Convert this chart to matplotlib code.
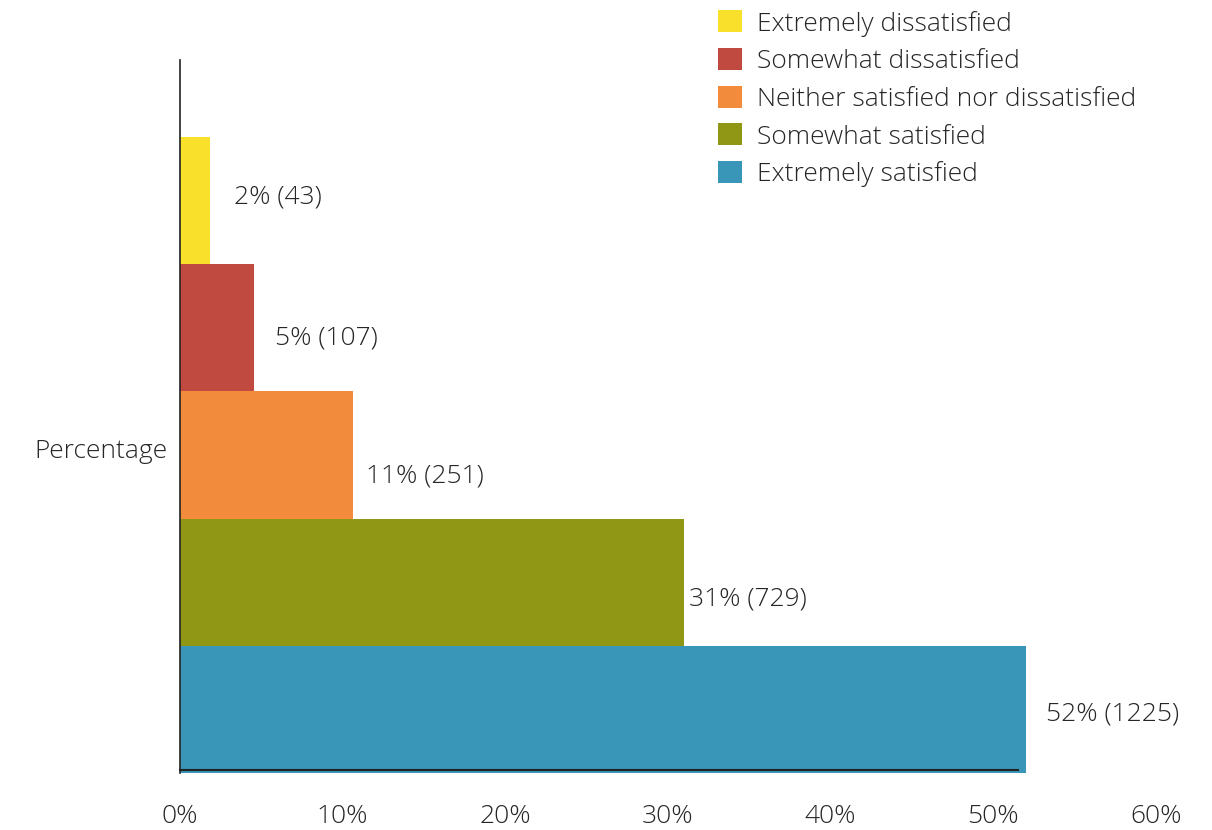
import matplotlib
matplotlib.use("Agg")
import numpy as np
from matplotlib import pyplot as plt
from matplotlib.patches import Patch

# survey responses, bottom to top
categories = ["Extremely satisfied", "Somewhat satisfied",
              "Neither satisfied nor dissatisfied", "Somewhat dissatisfied",
              "Extremely dissatisfied"]
counts = [1225, 729, 251, 107, 43]
colors = ["#3a96b8", "#8f9715", "#f38b3c", "#c04a3f", "#f8e02b"]
xticks = [0, 10, 20, 30, 40, 50, 60]

plt.rcParams['font.family'] = ['Open Sans', 'DejaVu Sans']
plt.rcParams['font.weight'] = 'light'
text_color = "#262626"
fsize = 19

counts = np.array(counts)
pct = counts / counts.sum() * 100

fig = plt.figure(figsize=(12.12, 8.30), dpi=100)
ax = fig.add_axes([180/1212, 57/830, (1156-180)/1212, 713/830])

ypos = np.arange(len(categories)) + 0.5
ax.barh(ypos, pct, height=1.0, color=colors, zorder=1)

# value labels next to each bar: (right, down) nudge in pixels
label_offsets = [(20, 5), (5, 17), (13, 21), (21, 10), (24, -4)]
for y, p, c, (dx, dy) in zip(ypos, pct, counts, label_offsets):
    ax.annotate(f"{p:.0f}% ({c})", xy=(p, y), xytext=(dx, -dy),
                textcoords="offset pixels", va="center", ha="left",
                fontsize=fsize, color=text_color)

ax.set_xlim(0, 60)
ax.set_ylim(0, 713/127.2)
ax.set_xticks(xticks)
ax.set_xticklabels([f"{t}%" for t in xticks])
ax.set_yticks([2.55])
ax.set_yticklabels(["Percentage"])
ax.tick_params(axis="x", length=0, pad=24, labelsize=fsize, labelcolor=text_color)
ax.tick_params(axis="y", length=0, pad=9, labelsize=fsize, labelcolor=text_color)

for s in ["top", "right"]:
    ax.spines[s].set_visible(False)
ax.spines["left"].set_color("#222222")
ax.spines["left"].set_linewidth(1.2)
ax.spines["bottom"].set_color("#222222")
ax.spines["bottom"].set_linewidth(1.5)
ax.spines["bottom"].set_bounds(0, 51.5)
ax.spines["bottom"].set_position(("data", 0.02))

handles = [Patch(facecolor=c, label=l) for c, l in zip(colors[::-1], categories[::-1])]
fig.legend(handles=handles, loc="upper left", bbox_to_anchor=(694/1212, 1.016),
           frameon=False, fontsize=fsize, handlelength=0.9, handleheight=0.9,
           handletextpad=0.6, labelspacing=0.44, labelcolor=text_color)

fig.savefig("out.png", dpi=100)
